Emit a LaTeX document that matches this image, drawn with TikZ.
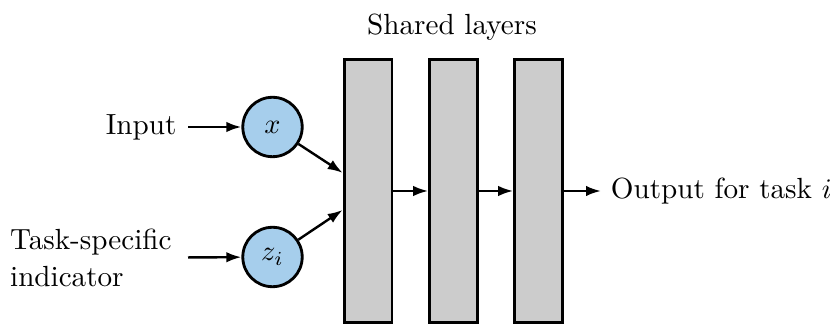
\documentclass[tikz,border=0pt]{standalone}
\usetikzlibrary{arrows.meta}
\definecolor{nodeblue}{RGB}{166,206,236}
\definecolor{layergray}{RGB}{204,204,204}
\begin{document}
\begin{tikzpicture}[x=0.3534pt,y=-0.3534pt,
  font=\fontsize{10.3}{13}\selectfont,
  layer/.style={draw=black,fill=layergray,line width=1pt,rectangle,
    minimum width=16.9pt,minimum height=92.8pt,inner sep=0pt},
  var/.style={draw=black,fill=nodeblue,line width=1pt,circle,
    minimum size=21pt,inner sep=0pt},
  arr/.style={line width=0.85pt,-{Latex[length=5.3pt,width=3.7pt]}},
  lbl/.style={inner sep=3.33pt}]
  \useasboundingbox (0,0) rectangle (830,325);

  % shared layers
  \node[layer] (r1) at (368,191) {};
  \node[layer] (r2) at (453.5,191) {};
  \node[layer] (r3) at (538.5,191) {};
  \node (shared) at (452,27) {Shared layers};

  % input variables
  \node[var] (x) at (272.5,127) {$x$};
  \node[var] (z) at (272.5,257) {$z_i$};

  % labels
  \node[lbl,anchor=east,inner xsep=3.9pt] (inp) at (188,127) {Input};
  \node[lbl,anchor=east,align=left,inner xsep=5.6pt] (ind) at (188,258) {Task-specific\\indicator};
  \node[lbl,anchor=west] (out) at (601,191) {Output for task $i$};

  % connectors
  \draw[arr] (inp) -- (x);
  \draw[arr] (ind) -- (z);
  \draw[arr] (x) -- ([yshift=6.4pt]r1.west);
  \draw[arr] (z) -- ([yshift=-6.7pt]r1.west);
  \draw[arr] (r1) -- (r2);
  \draw[arr] (r2) -- (r3);
  \draw[arr] (r3) -- (out);
\end{tikzpicture}
\end{document}
